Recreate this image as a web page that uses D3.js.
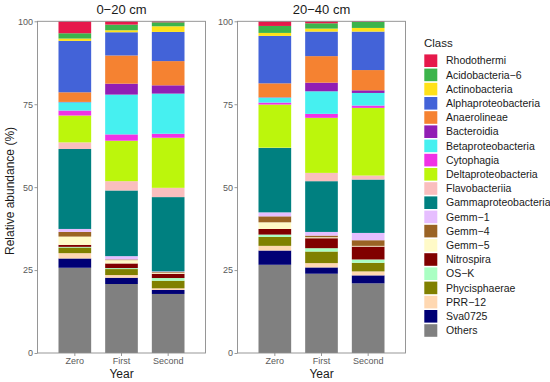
<!DOCTYPE html>
<html>
<head>
<meta charset="utf-8">
<script src="https://cdn.jsdelivr.net/npm/d3@7"></script>
<style>
  body { margin: 0; background: #fff; }
  svg { display: block; font-family: "Liberation Sans", Arial, sans-serif; }
</style>
</head>
<body>
<svg id="chart" width="550" height="382"></svg>
<script>
// ---- data ----
const depths = ["0\u221220 cm", "20\u221240 cm"];
const years = ["Zero", "First", "Second"];
// legend order (top of stack first)
const classes = ["Rhodothermi", "Acidobacteria\u22126", "Actinobacteria", "Alphaproteobacteria",
  "Anaerolineae", "Bacteroidia", "Betaproteobacteria", "Cytophagia", "Deltaproteobacteria",
  "Flavobacteriia", "Gammaproteobacteria", "Gemm\u22121", "Gemm\u22124", "Gemm\u22125",
  "Nitrospira", "OS\u2212K", "Phycisphaerae", "PRR\u221212", "Sva0725", "Others"];
const yTicks = [0, 25, 50, 75, 100];

// relative abundance (%) per bar, in class order above
const d0_20_zero   = [3.6, 1.6, 0.7, 15.5, 2.9, 0.1, 2.5, 1.5, 8.1, 2.0, 24.1, 0.9, 1.4, 2.5, 0.6, 0.2, 1.7, 1.6, 2.8, 25.7];
const d0_20_first  = [1.0, 1.7, 0.6, 7.0, 8.5, 3.3, 12.0, 1.9, 12.2, 2.8, 19.8, 1.0, 0.2, 1.0, 1.4, 0.3, 1.8, 0.8, 1.9, 20.8];
const d0_20_second = [0.3, 1.2, 1.7, 8.8, 7.3, 2.5, 12.1, 1.2, 15.1, 2.8, 22.4, 0.2, 0.2, 0.3, 1.3, 0.8, 2.3, 0.5, 1.2, 17.8];
const d20_40_zero   = [1.4, 2.1, 0.9, 14.3, 4.2, 0.1, 1.5, 0.6, 13.0, 0.1, 19.4, 1.2, 1.8, 2.0, 1.7, 0.7, 2.7, 1.4, 4.3, 26.6];
const d20_40_first  = [0.6, 1.6, 0.9, 7.4, 8.0, 2.6, 6.8, 1.2, 16.6, 2.5, 15.3, 1.1, 0.5, 0.3, 3.0, 1.0, 3.5, 1.3, 1.9, 23.9];
const d20_40_second = [0.2, 1.8, 1.1, 11.6, 6.1, 0.8, 3.8, 0.7, 20.4, 1.2, 16.1, 2.2, 1.7, 0.2, 3.9, 1.0, 2.6, 1.2, 2.4, 21.0];

const palette = ["#e6194b", "#3cb44b", "#ffe119", "#4363d8", "#f58231", "#911eb4", "#46f0f0",
  "#f032e6", "#bcf60c", "#fabebe", "#008080", "#e6beff", "#9a6324", "#fffac8", "#800000",
  "#aaffc3", "#808000", "#ffd8b1", "#000075", "#808080"];

const panelData = [
  [d0_20_zero, d0_20_first, d0_20_second],
  [d20_40_zero, d20_40_first, d20_40_second]
];

// ---- layout ----
const svg = d3.select("#chart");
const panelW = 168, plotTop = 21.3, plotBottom = 353;
const panelX = [37.5, 237.5];

const y = d3.scaleLinear().domain([0, 100]).range([plotBottom, plotTop]);
const color = d3.scaleOrdinal().domain(classes).range(palette);
const stackKeys = classes.slice().reverse(); // bottom first

panelData.forEach((bars, p) => {
  const x0 = panelX[p];
  const x = d3.scaleBand().domain(years).range([x0, x0 + panelW]).paddingInner(0.3).paddingOuter(0.45);
  const rows = years.map((yr, i) => {
    const o = { year: yr };
    classes.forEach((c, k) => o[c] = bars[i][k]);
    return o;
  });
  const series = d3.stack().keys(stackKeys)(rows);
  const g = svg.append("g");
  g.selectAll("g.s").data(series).join("g")
    .attr("fill", d => color(d.key))
    .selectAll("rect").data(d => d).join("rect")
    .attr("x", d => x(d.data.year))
    .attr("width", x.bandwidth())
    .attr("y", d => y(d[1]))
    .attr("height", d => y(d[0]) - y(d[1]));

  // panel border
  svg.append("rect").attr("x", x0).attr("y", plotTop).attr("width", panelW).attr("height", plotBottom - plotTop)
    .attr("fill", "none").attr("stroke", "#8c8c8c").attr("stroke-width", 0.9);

  // axes
  const yAxis = d3.axisLeft(y).tickValues(yTicks).tickSize(3).tickPadding(1.5);
  const ya = svg.append("g").attr("transform", `translate(${x0},0)`).call(yAxis);
  const xAxis = d3.axisBottom(x).tickSize(3).tickPadding(2);
  const xa = svg.append("g").attr("transform", `translate(0,${plotBottom})`).call(xAxis);
  [ya, xa].forEach(a => {
    a.select(".domain").remove();
    a.selectAll(".tick line").attr("stroke", "#8c8c8c").attr("stroke-width", 0.9);
    a.selectAll(".tick text").attr("fill", "#5a5a5a").style("font-size", "9px");
  });

  // panel title
  svg.append("text").attr("x", x0 + panelW / 2).attr("y", 14)
    .attr("text-anchor", "middle").style("font-size", "13px").attr("fill", "#1a1a1a")
    .text(depths[p]);
  // x title
  svg.append("text").attr("x", x0 + panelW / 2).attr("y", 377.5)
    .attr("text-anchor", "middle").style("font-size", "12px").attr("fill", "#1a1a1a")
    .text("Year");
});

// y title
svg.append("text").attr("transform", `translate(14,191) rotate(-90)`)
  .attr("text-anchor", "middle").style("font-size", "12px").attr("fill", "#1a1a1a")
  .text("Relative abundance (%)");

// legend
const lg = svg.append("g");
lg.append("text").attr("x", 424).attr("y", 47).style("font-size", "11.5px").attr("fill", "#1a1a1a").text("Class");
const rowH = 14.2, firstY = 60.7;
classes.forEach((c, i) => {
  const cy = firstY + i * rowH;
  lg.append("rect").attr("x", 424.3).attr("y", cy - 6.3).attr("width", 13).attr("height", 12.6).attr("fill", color(c));
  lg.append("text").attr("x", 446).attr("y", cy + 3.7).style("font-size", "10.5px").attr("fill", "#1a1a1a").text(c);
});
</script>
</body>
</html>
